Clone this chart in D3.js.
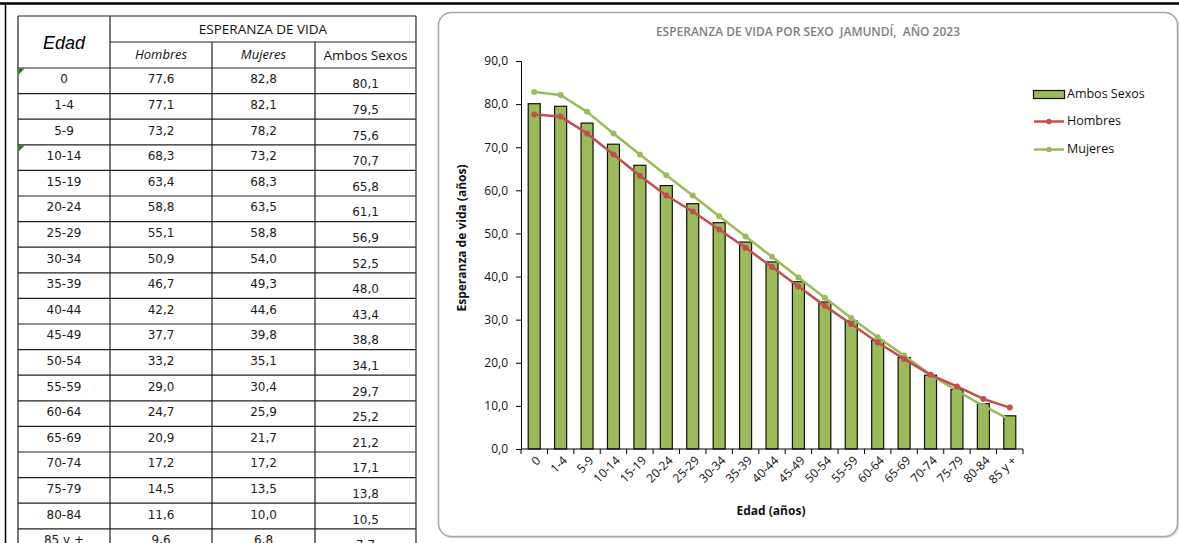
<!DOCTYPE html>
<html>
<head>
<meta charset="utf-8">
<script src="https://cdn.jsdelivr.net/npm/d3@7"></script>
<style>
  html, body { margin: 0; padding: 0; background: #fff; }
  svg { display: block; }
</style>
</head>
<body>
<svg id="page" width="1179" height="543"></svg>
<script>
// Grupos de edad y esperanza de vida por sexo, Jamundí 2023
const categories = ["0","1-4","5-9","10-14","15-19","20-24","25-29","30-34","35-39","40-44","45-49","50-54","55-59","60-64","65-69","70-74","75-79","80-84","85 y +"];
const hombres = [77.6,77.1,73.2,68.3,63.4,58.8,55.1,50.9,46.7,42.2,37.7,33.2,29.0,24.7,20.9,17.2,14.5,11.6,9.6];
const mujeres = [82.8,82.1,78.2,73.2,68.3,63.5,58.8,54.0,49.3,44.6,39.8,35.1,30.4,25.9,21.7,17.2,13.5,10.0,6.8];
const ambos   = [80.1,79.5,75.6,70.7,65.8,61.1,56.9,52.5,48.0,43.4,38.8,34.1,29.7,25.2,21.2,17.1,13.8,10.5,7.7];
const yTicks  = [0,10,20,30,40,50,60,70,80,90];

const es = d3.formatLocale({decimal: ",", thousands: ".", grouping: [3], currency: ["$", ""]});
const fmt = es.format(".1f");

const svg = d3.select("#page");

// Marco de la hoja
svg.append("line").attr("x1", 0).attr("x2", 1179).attr("y1", 3.5).attr("y2", 3.5)
  .attr("stroke", "#000").attr("stroke-width", 2.5);
svg.append("line").attr("x1", 5.5).attr("x2", 5.5).attr("y1", 3).attr("y2", 543)
  .attr("stroke", "#000").attr("stroke-width", 1.5);

// ---------- Tabla ----------
const tbl = svg.append("g");
const colX = [18, 110, 212, 315, 416];
const headTop = 16, headMid = 42, bodyTop = 68, rowH = 25.6;
const gridColor = "#222";

// filas de datos
categories.forEach((c, i) => {
  const y0 = bodyTop + i * rowH;
  const cy = y0 + rowH / 2;
  tbl.append("text").attr("x", (colX[0] + colX[1]) / 2).attr("y", cy - 1)
    .attr("text-anchor", "middle").attr("dominant-baseline", "middle")
    .style("font", "12px 'DejaVu Sans'").attr("fill", "#1a1a1a").text(c);
  tbl.append("text").attr("x", (colX[1] + colX[2]) / 2).attr("y", cy - 1)
    .attr("text-anchor", "middle").attr("dominant-baseline", "middle")
    .style("font", "12px 'DejaVu Sans'").attr("fill", "#1a1a1a").text(fmt(hombres[i]));
  tbl.append("text").attr("x", (colX[2] + colX[3]) / 2).attr("y", cy - 1)
    .attr("text-anchor", "middle").attr("dominant-baseline", "middle")
    .style("font", "12px 'DejaVu Sans'").attr("fill", "#1a1a1a").text(fmt(mujeres[i]));
  tbl.append("text").attr("x", (colX[3] + colX[4]) / 2).attr("y", cy + 4)
    .attr("text-anchor", "middle").attr("dominant-baseline", "middle")
    .style("font", "12px 'DejaVu Sans'").attr("fill", "#1a1a1a").text(fmt(ambos[i]));
});

// líneas horizontales
const hLines = [headTop, bodyTop];
for (let i = 1; i <= categories.length; i++) hLines.push(bodyTop + i * rowH);
hLines.forEach(y => {
  tbl.append("line").attr("x1", colX[0]).attr("x2", colX[4]).attr("y1", y).attr("y2", y)
    .attr("stroke", gridColor).attr("stroke-width", 1.2);
});
tbl.append("line").attr("x1", colX[1]).attr("x2", colX[4]).attr("y1", headMid).attr("y2", headMid)
  .attr("stroke", gridColor).attr("stroke-width", 1.2);
// líneas verticales
colX.forEach((x, k) => {
  const top = (k === 2 || k === 3) ? headMid : headTop;
  tbl.append("line").attr("x1", x).attr("x2", x).attr("y1", top).attr("y2", 543)
    .attr("stroke", gridColor).attr("stroke-width", 1.2);
});

// encabezados
tbl.append("text").attr("x", 64).attr("y", 44).attr("text-anchor", "middle")
  .attr("dominant-baseline", "middle").style("font", "italic 18px 'Liberation Sans'")
  .attr("fill", "#000").text("Edad");
tbl.append("text").attr("x", (colX[1] + colX[4]) / 2).attr("y", 30).attr("text-anchor", "middle")
  .attr("dominant-baseline", "middle").style("font", "13.5px 'Open Sans'")
  .attr("fill", "#111").text("ESPERANZA DE VIDA");
tbl.append("text").attr("x", (colX[1] + colX[2]) / 2).attr("y", 56).attr("text-anchor", "middle")
  .attr("dominant-baseline", "middle").style("font", "italic 13px 'Open Sans'")
  .attr("fill", "#111").text("Hombres");
tbl.append("text").attr("x", (colX[2] + colX[3]) / 2).attr("y", 56).attr("text-anchor", "middle")
  .attr("dominant-baseline", "middle").style("font", "italic 13px 'Open Sans'")
  .attr("fill", "#111").text("Mujeres");
tbl.append("text").attr("x", (colX[3] + colX[4]) / 2).attr("y", 56).attr("text-anchor", "middle")
  .attr("dominant-baseline", "middle").style("font", "13.5px 'Open Sans'")
  .attr("fill", "#111").text("Ambos Sexos");

// indicadores verdes de celda
[0, 3].forEach(i => {
  const y0 = bodyTop + i * rowH + 0.6, x0 = colX[0] + 0.6;
  tbl.append("path").attr("d", `M${x0},${y0}L${x0 + 6},${y0}L${x0},${y0 + 6}Z`).attr("fill", "#1e7b1e");
});

// ---------- Gráfico ----------
const box = {x: 438.5, y: 12.5, w: 739, h: 524};
svg.append("rect").attr("x", box.x + 1).attr("y", box.y + 1).attr("width", box.w).attr("height", box.h)
  .attr("rx", 13).attr("fill", "none").attr("stroke", "#d8d8d8").attr("stroke-width", 1.5);
svg.append("rect").attr("x", box.x).attr("y", box.y).attr("width", box.w).attr("height", box.h)
  .attr("rx", 13).attr("fill", "#fff").attr("stroke", "#a6a6a6").attr("stroke-width", 1.5);

svg.append("text").attr("x", 808).attr("y", 33).attr("text-anchor", "middle")
  .attr("dominant-baseline", "middle").style("font", "600 12px 'Open Sans'")
  .attr("fill", "#808080").attr("xml:space", "preserve")
  .text("ESPERANZA DE VIDA POR SEXO  JAMUNDÍ,  AÑO 2023");

const plot = {left: 521, right: 1023, top: 61, bottom: 449};
const x = d3.scaleBand().domain(categories).range([plot.left, plot.right]).paddingInner(0).paddingOuter(0);
const y = d3.scaleLinear().domain([0, 90]).range([plot.bottom, plot.top]);
const g = svg.append("g");

// eje Y
const yAxis = g.append("g").attr("transform", `translate(${plot.left},0)`)
  .call(d3.axisLeft(y).tickValues(yTicks).tickFormat(fmt).tickSizeOuter(0).tickSize(5).tickPadding(8));
yAxis.select(".domain").attr("stroke", "#000");
yAxis.selectAll(".tick line").attr("stroke", "#000");
yAxis.selectAll(".tick text").style("font", "12px 'Open Sans'").attr("fill", "#111");

// barras: ambos sexos
const barW = 12;
g.selectAll("rect.bar").data(ambos).join("rect").attr("class", "bar")
  .attr("x", (d, i) => x(categories[i]) + x.bandwidth() / 2 - barW / 2)
  .attr("y", d => y(d))
  .attr("width", barW)
  .attr("height", d => y(0) - y(d))
  .attr("fill", "#9bbb59").attr("stroke", "#111").attr("stroke-width", 1.2);

// eje X
const xAxisG = g.append("g").attr("transform", `translate(0,${plot.bottom})`);
xAxisG.append("line").attr("x1", plot.left).attr("x2", plot.right).attr("y1", 0).attr("y2", 0)
  .attr("stroke", "#000").attr("stroke-width", 1);
const bounds = categories.map(c => x(c)).concat([plot.right]);
xAxisG.selectAll("line.tk").data(bounds).join("line").attr("class", "tk")
  .attr("x1", d => d).attr("x2", d => d).attr("y1", 0).attr("y2", 5)
  .attr("stroke", "#000");
xAxisG.selectAll("text.lbl").data(categories).join("text").attr("class", "lbl")
  .attr("transform", d => `translate(${x(d) + x.bandwidth() / 2 + 5},${10}) rotate(-45)`)
  .attr("text-anchor", "end").attr("dominant-baseline", "middle")
  .style("font", "12px 'Open Sans'").attr("fill", "#111").text(d => d);

// líneas: hombres y mujeres
const cx = (d, i) => x(categories[i]) + x.bandwidth() / 2;
const lineGen = d3.line().x(cx).y(d => y(d));
const series = [
  {name: "Mujeres", values: mujeres, color: "#9bbb59"},
  {name: "Hombres", values: hombres, color: "#c0504d"}
];
series.forEach(s => {
  g.append("path").datum(s.values).attr("d", lineGen).attr("fill", "none")
    .attr("stroke", s.color).attr("stroke-width", 2.5).attr("stroke-linejoin", "round");
  g.selectAll(null).data(s.values).join("circle")
    .attr("cx", cx).attr("cy", d => y(d)).attr("r", 3).attr("fill", s.color);
});

// títulos de ejes
svg.append("text").attr("x", 771).attr("y", 512).attr("text-anchor", "middle")
  .attr("dominant-baseline", "middle").style("font", "bold 12px 'Open Sans'")
  .attr("fill", "#111").text("Edad (años)");
svg.append("text").attr("transform", "translate(463,238) rotate(-90)").attr("text-anchor", "middle")
  .attr("dominant-baseline", "middle").style("font", "bold 12px 'Open Sans'")
  .attr("fill", "#111").text("Esperanza de vida (años)");

// leyenda
const lg = svg.append("g");
lg.append("rect").attr("x", 1033.5).attr("y", 90.5).attr("width", 31).attr("height", 8)
  .attr("fill", "#9bbb59").attr("stroke", "#111").attr("stroke-width", 1.2);
lg.append("text").attr("x", 1067).attr("y", 95).attr("dominant-baseline", "middle")
  .style("font", "12.5px 'Open Sans'").attr("fill", "#111").text("Ambos Sexos");
[{name: "Hombres", color: "#c0504d", y: 121.5}, {name: "Mujeres", color: "#9bbb59", y: 149.5}].forEach(s => {
  lg.append("line").attr("x1", 1034).attr("x2", 1064).attr("y1", s.y).attr("y2", s.y)
    .attr("stroke", s.color).attr("stroke-width", 2.5);
  lg.append("circle").attr("cx", 1049).attr("cy", s.y).attr("r", 2.8).attr("fill", s.color);
  lg.append("text").attr("x", 1067).attr("y", s.y).attr("dominant-baseline", "middle")
    .style("font", "12.5px 'Open Sans'").attr("fill", "#111").text(s.name);
});
</script>
</body>
</html>
